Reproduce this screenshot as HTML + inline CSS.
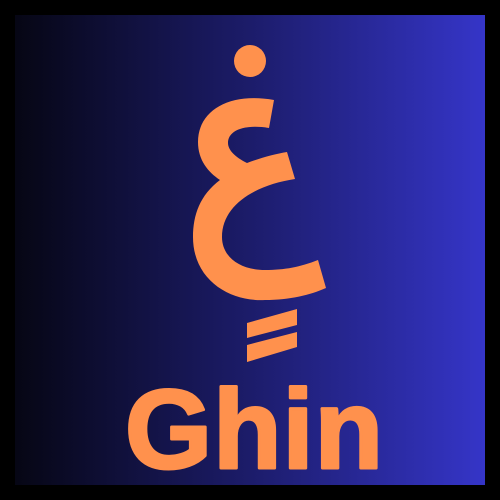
<!DOCTYPE html>
<html><head><meta charset="utf-8"><style>
html,body{margin:0;padding:0;background:#000;}
#logo{position:relative;width:500px;height:500px;background:#000;overflow:hidden;}
</style></head><body>
<div id="logo">
<svg width="500" height="500" viewBox="0 0 500 500">
<defs><linearGradient id="g" x1="0" y1="0" x2="1" y2="0">
<stop offset="0" stop-color="#060614"/>
<stop offset="0.5" stop-color="#1c1c6a"/>
<stop offset="1" stop-color="#3535c8"/>
</linearGradient></defs>
<rect x="0" y="0" width="500" height="500" fill="#000"/>
<rect x="15" y="15" width="470" height="470" fill="url(#g)"/>
<circle cx="250" cy="61" r="16" fill="#ff914d"/>
<path fill="#ff914d" d="M274,100 C230,92 198,110 198,142 C198,160 208,172 220,180 C200,195 193,215 193,237 C193,280 230,302 265,300 C290,300 310,295 326,288 L318,260 C300,267 285,270 265,270 C240,270 222,257 222,237 C222,205 255,185 295,179 L287,152 C275,154 260,158 247,163 C235,157 228,150 228,143 C228,130 245,124 269,128 Z"/>
<polygon fill="#ff914d" points="247,323 297,309 297,325 247,338"/>
<polygon fill="#ff914d" points="247,345 297,332 297,347 247,362"/>
<text x="125" y="468" fill="#ff914d" stroke="#ff914d" stroke-width="3" stroke-linejoin="round" font-family="Liberation Sans, sans-serif" font-weight="bold" font-size="112" letter-spacing="1">Ghin</text>
</svg>
</div>
</body></html>
